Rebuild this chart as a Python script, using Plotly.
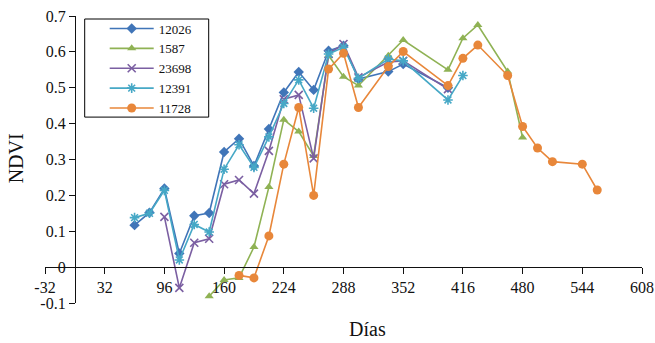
import plotly.graph_objects as go

# ---- data ----
x_12026 = [64, 80, 96, 112, 128, 144, 160, 176, 192, 208, 224, 240, 256, 272, 288, 304, 336, 352, 400]
y_12026 = [0.117, 0.152, 0.219, 0.038, 0.143, 0.151, 0.321, 0.358, 0.282, 0.385, 0.487, 0.544, 0.494, 0.603, 0.617, 0.524, 0.545, 0.566, 0.500]

x_1587 = [144, 160, 176, 192, 208, 224, 240, 256, 272, 288, 304, 336, 352, 400, 416, 432, 464, 480]
y_1587 = [-0.081, -0.036, -0.030, 0.056, 0.223, 0.411, 0.378, 0.310, 0.590, 0.531, 0.506, 0.589, 0.633, 0.550, 0.638, 0.675, 0.545, 0.361]

x_23698 = [96, 112, 128, 144, 160, 176, 192, 208, 224, 240, 256, 272, 288, 304, 336, 352, 400]
y_23698 = [0.140, -0.058, 0.068, 0.079, 0.231, 0.243, 0.205, 0.324, 0.468, 0.480, 0.303, 0.594, 0.622, 0.529, 0.572, 0.575, 0.496]

x_12391 = [64, 80, 96, 112, 128, 144, 160, 176, 192, 208, 224, 240, 256, 272, 288, 304, 336, 352, 400, 416]
y_12391 = [0.138, 0.150, 0.214, 0.020, 0.119, 0.098, 0.273, 0.341, 0.278, 0.363, 0.456, 0.522, 0.443, 0.594, 0.613, 0.526, 0.580, 0.575, 0.466, 0.534]

x_11728 = [176, 192, 208, 224, 240, 256, 272, 288, 304, 336, 352, 400, 416, 432, 464, 480, 496, 512, 544, 560]
y_11728 = [-0.023, -0.030, 0.087, 0.287, 0.445, 0.200, 0.552, 0.596, 0.445, 0.559, 0.601, 0.506, 0.582, 0.619, 0.534, 0.392, 0.332, 0.294, 0.287, 0.215]

x_ticks = [-32, 32, 96, 160, 224, 288, 352, 416, 480, 544, 608]
y_ticks = [-0.1, 0, 0.1, 0.2, 0.3, 0.4, 0.5, 0.6, 0.7]
y_ticktext = ["-0.1", "0", "0.1", "0.2", "0.3", "0.4", "0.5", "0.6", "0.7"]

FONT = "Liberation Serif, Times New Roman, serif"
TXT = "#111111"

series = [
    ("12026", x_12026, y_12026, "#4075B8", "diamond", 8),
    ("1587", x_1587, y_1587, "#8FB254", "triangle-up", 8),
    ("23698", x_23698, y_23698, "#7B5FA2", "x-thin", 8),
    ("12391", x_12391, y_12391, "#46A8C6", "asterisk", 8),
    ("11728", x_11728, y_11728, "#E8873A", "circle", 9),
]

fig = go.Figure()
for name, xs, ys, col, sym, sz in series:
    marker = dict(symbol=sym, size=sz, color=col)
    if sym in ("x-thin", "asterisk"):
        marker["line"] = dict(color=col, width=1.6)
    fig.add_trace(go.Scatter(
        x=xs, y=ys, name=name, mode="lines+markers",
        line=dict(color=col, width=1.6), marker=marker,
    ))

W, H = 655, 343
L, R, T, B = 45.3, 12.7, 16, 40.3
PW, PH = W - L - R, H - T - B


def px(xp):  # page x -> paper
    return (xp - L) / PW


def py(yp):  # page y -> paper
    return (H - B - yp) / PH


fig.update_layout(
    width=W, height=H,
    margin=dict(l=L, r=R, t=T, b=B, autoexpand=False),
    paper_bgcolor="white", plot_bgcolor="white",
    font=dict(family=FONT, size=16, color=TXT),
    showlegend=True,
    legend=dict(
        x=px(105), y=py(13.5), xanchor="left", yanchor="top",
        bgcolor="rgba(0,0,0,0)", borderwidth=0,
        font=dict(family=FONT, size=13, color=TXT),
        itemwidth=44, tracegroupgap=0,
    ),
    shapes=[
        dict(type="rect", xref="paper", yref="paper",
             x0=px(85), x1=px(209), y0=py(117), y1=py(19),
             line=dict(color="black", width=1), fillcolor="white", layer="below"),
    ],
    xaxis=dict(
        range=[-32, 608], tickvals=x_ticks, ticktext=[str(v) for v in x_ticks],
        anchor="free", position=0.1248, showline=True, linecolor=TXT, linewidth=1,
        ticks="outside", ticklen=6, tickcolor=TXT, showgrid=False, zeroline=False,
        tickfont=dict(family=FONT, size=16, color=TXT),
        ticklabeloverflow="allow", automargin=False,
    ),
    yaxis=dict(
        range=[-0.1, 0.7], tickvals=y_ticks, ticktext=y_ticktext,
        anchor="free", position=0.05, side="left", showline=True, linecolor=TXT, linewidth=1,
        ticks="outside", ticklen=6, tickcolor=TXT, showgrid=False, zeroline=False,
        tickfont=dict(family=FONT, size=16, color=TXT),
        ticklabeloverflow="allow", automargin=False,
    ),
    annotations=[
        dict(text="Días", xref="paper", yref="paper", x=px(368), y=py(329),
             showarrow=False, font=dict(family=FONT, size=20, color=TXT), xanchor="center", yanchor="middle"),
        dict(text="NDVI", xref="paper", yref="paper", x=px(16), y=py(158.5),
             showarrow=False, textangle=-90, font=dict(family=FONT, size=20, color=TXT),
             xanchor="center", yanchor="middle"),
    ],
)

fig.write_html("out.html", config={"displayModeBar": False},
               post_script="document.body.style.margin='0';")
